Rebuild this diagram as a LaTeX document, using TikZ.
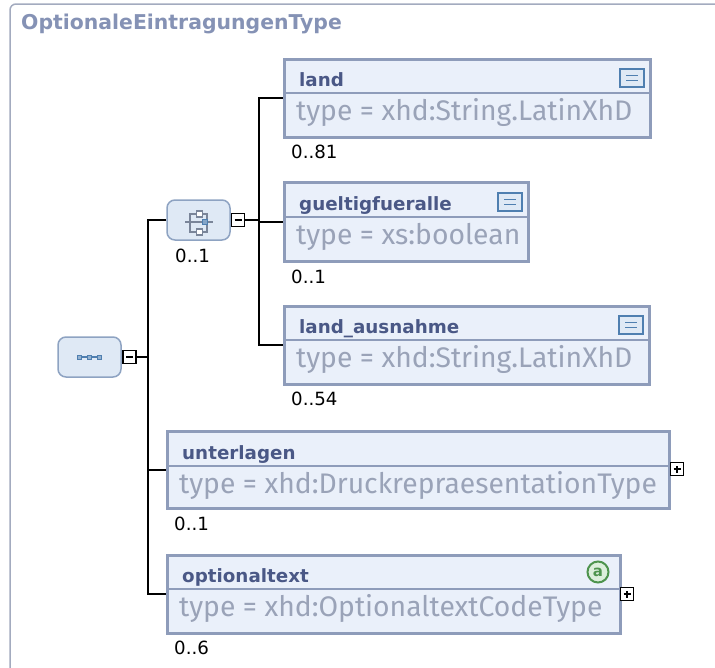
\documentclass[tikz,border=0pt]{standalone}
\usepackage{fontspec}
\setmainfont{DejaVu Sans}
\newfontfamily\typefont{Fira Sans}
\usepackage{tikz}
\definecolor{frameline}{HTML}{A3ABBF}
\definecolor{titlecol}{HTML}{8592B5}
\definecolor{boxline}{HTML}{8E9CBA}
\definecolor{boxfill}{HTML}{EAF0FA}
\definecolor{headcol}{HTML}{4A5886}
\definecolor{typecol}{HTML}{9AA3B8}
\definecolor{modline}{HTML}{8EA3C2}
\definecolor{modfill}{HTML}{DFE9F5}
\definecolor{iconblue}{HTML}{4F7FB0}
\definecolor{icongray}{HTML}{7A8599}
\definecolor{attrgreen}{HTML}{4E944E}
\definecolor{attrfill}{HTML}{DCEFDC}

\tikzset{
  elbox/.style={draw=boxline, line width=3, fill=boxfill, inner sep=0},
  elname/.style={anchor=base west, inner sep=0, text=headcol, font=\bfseries\fontsize{18.3}{20}\selectfont},
  eltype/.style={anchor=base west, inner sep=0, text=typecol, font=\typefont\fontsize{28.3}{30}\selectfont},
  occ/.style={anchor=base west, inner sep=0, font=\fontsize{18.2}{19}\selectfont},
  modbox/.style={draw=modline, line width=1.5, fill=modfill, rounded corners=8, minimum width=63, minimum height=40, inner sep=0},
  minusbox/.style={draw, line width=1.2, fill=white, minimum size=13, inner sep=0,
    path picture={\draw[line width=1.2] ([xshift=-3.5pt]path picture bounding box.center) -- ([xshift=3.5pt]path picture bounding box.center);}},
  plusbox/.style={draw, line width=1.2, fill=white, minimum size=13, inner sep=0,
    path picture={\draw[line width=1.2] ([xshift=-3.5pt]path picture bounding box.center) -- ([xshift=3.5pt]path picture bounding box.center)
      ([yshift=-3.5pt]path picture bounding box.center) -- ([yshift=3.5pt]path picture bounding box.center);}},
  docicon/.style={draw=iconblue, line width=1.5, fill=modfill, minimum width=24, minimum height=18, inner sep=0,
    path picture={\draw[iconblue, line width=1.2] ([xshift=-6pt, yshift=2.5pt]path picture bounding box.center) -- ([xshift=6pt, yshift=2.5pt]path picture bounding box.center)
      ([xshift=-6pt, yshift=-2.5pt]path picture bounding box.center) -- ([xshift=6pt, yshift=-2.5pt]path picture bounding box.center);}},
  attricon/.style={circle, draw=attrgreen, line width=2, fill=attrfill, minimum size=21, inner sep=0, text=attrgreen, font=\bfseries\fontsize{15}{15}\selectfont},
  conn/.style={line width=1.5}
}

\begin{document}
\begin{tikzpicture}[x=1pt, y=-1pt]
    \useasboundingbox (0,0) rectangle (715,667);
    \clip (0,0) rectangle (715,667);

    % outer frame
    \draw[frameline, line width=1.5, rounded corners=6] (10,720) |- (740,4);
    \node (title) [anchor=base west, inner sep=0, text=titlecol, font=\bfseries\fontsize{20.4}{22}\selectfont] at (21,29) {OptionaleEintragungenType};

    % compositors
    \node (seq) [modbox] at (89.5,357) {};
    \node (seqminus) [minusbox] at (129.5,357) {};
    \node (choice) [modbox] at (198.5,220) {};
    \node (choiceminus) [minusbox] at (238,220) {};
    \node (choiceocc) [occ] at (175,262) {0..1};

    % sequence icon
    \draw[iconblue, line width=1.2] ([xshift=-11pt]seq.center) -- ([xshift=11pt]seq.center);
    \foreach \dx in {-10,0,10}
        \filldraw[draw=iconblue, fill=iconblue!60, line width=0.8] ([xshift=\dx pt-2pt, yshift=-2pt]seq.center) rectangle ([xshift=\dx pt+2pt, yshift=2pt]seq.center);

    % choice icon
    \draw[icongray, line width=1.5] (190,214) rectangle (207,232);
    \draw[icongray, line width=1.5] (185,222) -- (213,222);
    \filldraw[draw=icongray, fill=white, line width=1.2] (196.5,211) rectangle (202.5,217);
    \filldraw[draw=icongray, fill=white, line width=1.2] (196.5,229) rectangle (202.5,235);
    \filldraw[draw=iconblue, fill=iconblue!70, line width=1] (202,219.5) rectangle (207,224.5);

    % elements
    \node (land) [elbox, minimum width=366, minimum height=78] at (467,98) {};
    \draw[boxline, line width=1.5] (284,93) -- (650,93);
    \node (landname) [elname] at (299,86) {land};
    \node (landtype) [eltype] at (296,120) {type = xhd:String.LatinXhD};
    \node (landdoc) [docicon] at (632,78) {};
    \node (landocc) [occ] at (291,158) {0..81};

    \node (gueltig) [elbox, minimum width=244, minimum height=79] at (406,222) {};
    \draw[boxline, line width=1.5] (284,217) -- (528,217);
    \node (gueltigname) [elname] at (299,210) {gueltigfueralle};
    \node (gueltigtype) [eltype] at (296,244) {type = xs:boolean};
    \node (gueltigdoc) [docicon] at (510,202) {};
    \node (gueltigocc) [occ] at (291,283) {0..1};

    \node (ausnahme) [elbox, minimum width=365, minimum height=78] at (466.5,345) {};
    \draw[boxline, line width=1.5] (284,340) -- (649,340);
    \node (ausnahmename) [elname] at (299,333) {land\_ausnahme};
    \node (ausnahmetype) [eltype] at (296,367) {type = xhd:String.LatinXhD};
    \node (ausnahmedoc) [docicon] at (631,325) {};
    \node (ausnahmeocc) [occ] at (291,405) {0..54};

    \node (unterlagen) [elbox, minimum width=502, minimum height=77] at (418,470) {};
    \draw[boxline, line width=1.5] (167,466) -- (669,466);
    \node (unterlagenname) [elname] at (182,459) {unterlagen};
    \node (unterlagentype) [eltype] at (179,493) {type = xhd:DruckrepraesentationType};
    \node (unterlagenplus) [plusbox] at (677,469) {};
    \node (unterlagenocc) [occ] at (174,530) {0..1};

    \node (opttext) [elbox, minimum width=453, minimum height=78] at (393.5,594) {};
    \draw[boxline, line width=1.5] (167,589) -- (620,589);
    \node (opttextname) [elname] at (182,582) {optionaltext};
    \node (opttexttype) [eltype] at (179,616) {type = xhd:OptionaltextCodeType};
    \node (opttextattr) [attricon] at (598,572) {a};
    \node (opttextplus) [plusbox] at (627,594) {};
    \node (opttextocc) [occ] at (174,654) {0..6};

    % connectors
    \coordinate (seqbus) at (148,357);
    \coordinate (choicebus) at (259,220);
    \draw[conn] (seqminus) -- (seqbus);
    \draw[conn] (choice) -| (seqbus);
    \draw[conn] (unterlagen) -| (seqbus);
    \draw[conn] (opttext) -| (seqbus);
    \draw[conn] (choiceminus) -- (choicebus);
    \draw[conn] (land) -| (choicebus);
    \draw[conn] (gueltig) -| (choicebus);
    \draw[conn] (ausnahme) -| (choicebus);
\end{tikzpicture}
\end{document}
